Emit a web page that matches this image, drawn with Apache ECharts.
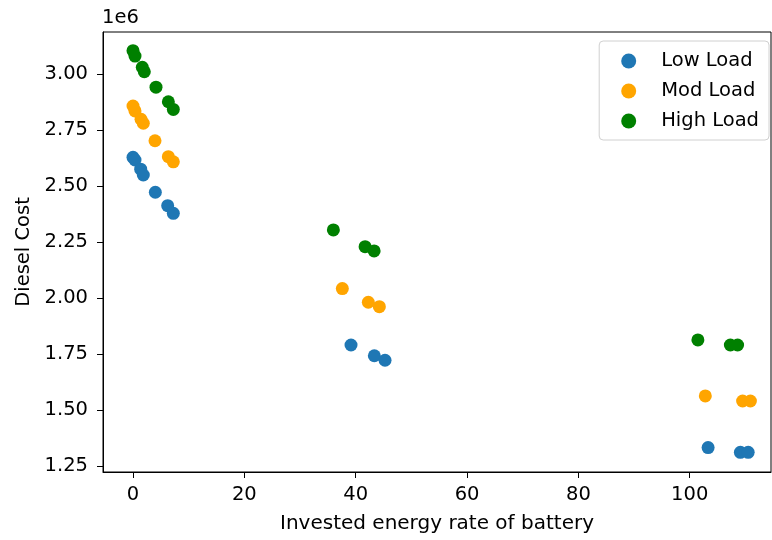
<!DOCTYPE html>
<html>
<head>
<meta charset="utf-8">
<script src="https://cdn.jsdelivr.net/npm/echarts@6/dist/echarts.min.js"></script>
<style>
  html, body { margin: 0; padding: 0; background: #fff; }
  #chart { width: 772px; height: 540px; }
</style>
</head>
<body>
<div id="chart"></div>
<script>
// Invested energy rate of battery (x) vs. diesel cost (y) for three load levels
const lowX  = [0, 0.36, 1.38, 1.85, 4.01, 6.23, 7.24, 39.16, 43.35, 45.27, 103.3, 109.1, 110.5];
const lowY  = [2.628e6, 2.616e6, 2.575e6, 2.549e6, 2.472e6, 2.412e6, 2.378e6, 1.790e6, 1.742e6, 1.722e6, 1.332e6, 1.311e6, 1.311e6];

const modX  = [0, 0.36, 1.44, 1.85, 3.95, 6.35, 7.24, 37.6, 42.27, 44.25, 102.8, 109.5, 110.9];
const modY  = [2.857e6, 2.835e6, 2.798e6, 2.780e6, 2.702e6, 2.631e6, 2.608e6, 2.042e6, 1.981e6, 1.961e6, 1.5625e6, 1.540e6, 1.540e6];

const highX = [0, 0.36, 1.67, 2.03, 4.13, 6.35, 7.24, 35.99, 41.69, 43.31, 101.47, 107.3, 108.6];
const highY = [3.104e6, 3.080e6, 3.030e6, 3.010e6, 2.941e6, 2.876e6, 2.842e6, 2.304e6, 2.229e6, 2.210e6, 1.8125e6, 1.790e6, 1.790e6];

const seriesNames = ['Low Load', 'Mod Load', 'High Load'];
const seriesColors = ['#1f77b4', '#ffa500', '#008000'];

const xTicks = [0, 20, 40, 60, 80, 100];
const yTicks = [1.25e6, 1.5e6, 1.75e6, 2.0e6, 2.25e6, 2.5e6, 2.75e6, 3.0e6];

const pairs = (xs, ys) => xs.map((x, i) => [x, ys[i]]);
const seriesData = [pairs(lowX, lowY), pairs(modX, modY), pairs(highX, highY)];

const FONT = 'DejaVu Sans';
const FS = 19.5;
const chart = echarts.init(document.getElementById('chart'), null, { renderer: 'canvas' });

chart.setOption({
  animation: false,
  backgroundColor: '#ffffff',
  textStyle: { fontFamily: FONT },
  grid: {
    left: 103, right: 1, top: 32, bottom: 68,
    containLabel: false,
    outerBoundsMode: 'none',
    show: true, borderColor: '#000', borderWidth: 1, backgroundColor: 'transparent'
  },
  xAxis: {
    type: 'value',
    min: -5.39, max: 114.6,
    name: 'Invested energy rate of battery',
    nameLocation: 'middle',
    nameGap: 42,
    nameTextStyle: { fontFamily: FONT, fontSize: 20, color: '#000' },
    axisLine: { show: true, onZero: false, lineStyle: { color: '#000', width: 1 } },
    axisTick: { show: true, length: 6, customValues: xTicks, lineStyle: { color: '#000' } },
    axisLabel: { customValues: xTicks, fontFamily: FONT, fontSize: FS, color: '#000', margin: 13 },
    splitLine: { show: false }
  },
  yAxis: {
    type: 'value',
    min: 1.223e6, max: 3.1875e6,
    name: 'Diesel Cost',
    nameLocation: 'middle',
    nameGap: 68,
    nameRotate: 90,
    nameTextStyle: { fontFamily: FONT, fontSize: FS, color: '#000' },
    axisLine: { show: true, onZero: false, lineStyle: { color: '#000', width: 1 } },
    axisTick: { show: true, length: 6, customValues: yTicks, lineStyle: { color: '#000' } },
    axisLabel: {
      customValues: yTicks, fontFamily: FONT, fontSize: FS, color: '#000', margin: 15,
      formatter: v => (v / 1e6).toFixed(2)
    },
    splitLine: { show: false }
  },
  legend: {
    data: seriesNames,
    orient: 'vertical',
    right: 3, top: 41,
    icon: 'circle',
    itemWidth: 15, itemHeight: 15,
    itemGap: 10,
    padding: [10, 10, 9, 22],
    backgroundColor: '#fff',
    borderColor: '#d0d0d0', borderWidth: 1, borderRadius: 4,
    textStyle: { fontFamily: FONT, fontSize: FS, color: '#000', padding: [0, 0, 0, 20] }
  },
  graphic: [{
    type: 'text', left: 102, top: 8,
    style: { text: '1e6', font: FS + 'px "DejaVu Sans"', fill: '#000' }
  }],
  series: seriesNames.map((name, i) => ({
    name,
    type: 'scatter',
    symbol: 'circle',
    symbolSize: 13,
    itemStyle: { color: seriesColors[i], opacity: 1 },
    data: seriesData[i]
  }))
});
</script>
</body>
</html>
